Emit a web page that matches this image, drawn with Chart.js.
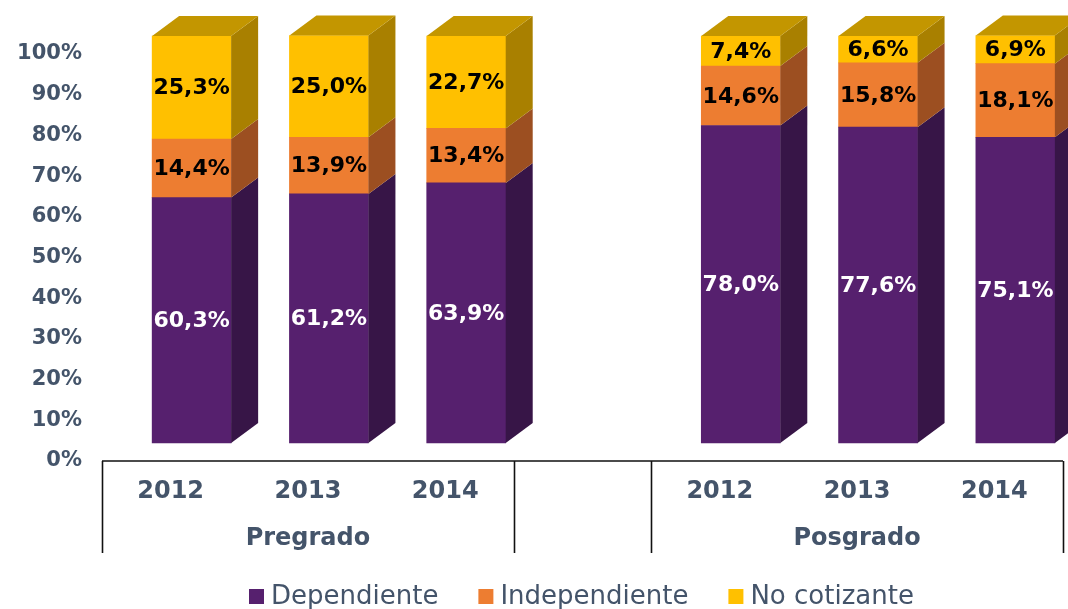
<!DOCTYPE html>
<html>
<head>
<meta charset="utf-8">
<script src="https://cdn.jsdelivr.net/npm/chart.js@4.4.1/dist/chart.umd.min.js"></script>
<style>
  html, body { margin: 0; padding: 0; background: #fff; }
  #wrap { width: 1068px; height: 609px; }
</style>
</head>
<body>
<div id="wrap"><canvas id="myChart" width="1068" height="609"></canvas></div>
<script>
// categories (empty slot separates the two groups)
const years = ['2012', '2013', '2014', '', '2012', '2013', '2014'];
const groupNames = ['Pregrado', 'Posgrado'];
const groupCenter = [1, 5];      // category index under which each group name sits
const groupEdges = [0, 3, 4, 7]; // category edges carrying the vertical separators

const seriesNames = ['Dependiente', 'Independiente', 'No cotizante'];
const dependiente   = [60.3, 61.2, 63.9, null, 78.0, 77.6, 75.1];
const independiente = [14.4, 13.9, 13.4, null, 14.6, 15.8, 18.1];
const noCotizante   = [25.3, 25.0, 22.7, null, 7.4, 6.6, 6.9];

const frontColors = ['#56206E', '#ED7D31', '#FFC000'];
const sideColors  = ['#371547', '#9C4F21', '#A98000'];
const topColor    = '#C39600';
const labelColors = ['#FFFFFF', '#000000', '#000000'];
const axisText    = '#44546A';

const DX = 27, DY = 20;   // 3D depth
const SHIFT = 21;         // front faces sit right of the slot centre
const DROP = 18;          // floor/axis sits below the front face base

const fmt = v => v.toFixed(1).replace('.', ',') + '%';

const bar3d = {
  id: 'bar3d',
  beforeDatasetsDraw(chart) {
    chart.ctx.save();
    chart.ctx.translate(SHIFT, 0);
  },
  afterDatasetsDraw(chart) {
    const ctx = chart.ctx;
    const last = chart.data.datasets.length - 1;
    chart.data.datasets.forEach((ds, di) => {
      chart.getDatasetMeta(di).data.forEach((bar, i) => {
        if (ds.data[i] == null) return;
        const { x, y, base, width } = bar.getProps(['x', 'y', 'base', 'width'], true);
        const l = x - width / 2, r = x + width / 2;
        ctx.fillStyle = sideColors[di];
        ctx.beginPath();
        ctx.moveTo(r, y);
        ctx.lineTo(r + DX, y - DY);
        ctx.lineTo(r + DX, base - DY);
        ctx.lineTo(r, base);
        ctx.closePath();
        ctx.fill();
        if (di === last) {
          ctx.fillStyle = topColor;
          ctx.beginPath();
          ctx.moveTo(l, y);
          ctx.lineTo(l + DX, y - DY);
          ctx.lineTo(r + DX, y - DY);
          ctx.lineTo(r, y);
          ctx.closePath();
          ctx.fill();
        }
      });
    });
    // value labels
    ctx.font = 'bold 22px "DejaVu Sans"';
    ctx.textAlign = 'center';
    ctx.textBaseline = 'middle';
    chart.data.datasets.forEach((ds, di) => {
      chart.getDatasetMeta(di).data.forEach((bar, i) => {
        if (ds.data[i] == null) return;
        const { x, y, base } = bar.getProps(['x', 'y', 'base'], true);
        ctx.fillStyle = labelColors[di];
        ctx.fillText(fmt(ds.data[i]), x, (y + base) / 2 + 1);
      });
    });
    ctx.restore();
  },
  afterDraw(chart) {
    const ctx = chart.ctx;
    const xs = chart.scales.x, ys = chart.scales.y;
    const area = chart.chartArea;
    const slot = (area.right - area.left) / years.length;
    const floor = ys.getPixelForValue(0) + DROP;
    const bottom = floor + 92;

    ctx.save();
    ctx.strokeStyle = '#111';
    ctx.lineWidth = 1.6;
    ctx.beginPath();
    ctx.moveTo(area.left, floor);
    ctx.lineTo(area.right, floor);
    groupEdges.forEach(e => {
      const px = Math.round(area.left + e * slot) + 0.5;
      ctx.moveTo(px, floor);
      ctx.lineTo(px, bottom);
    });
    ctx.stroke();

    ctx.fillStyle = axisText;
    ctx.textAlign = 'center';
    ctx.textBaseline = 'middle';
    ctx.font = 'bold 24px "DejaVu Sans"';
    years.forEach((t, i) => {
      if (t) ctx.fillText(t, xs.getPixelForValue(i), floor + 31);
    });
    groupNames.forEach((g, k) => {
      ctx.fillText(g, xs.getPixelForValue(groupCenter[k]), floor + 78);
    });

    // legend
    ctx.font = '26px "DejaVu Sans"';
    ctx.textAlign = 'left';
    const box = 15, gapText = 7, gapItem = 40;
    const widths = chart.data.datasets.map(d => box + gapText + ctx.measureText(d.label).width);
    let lx = 249;
    const ly = 597;
    chart.data.datasets.forEach((d, di) => {
      ctx.fillStyle = d.backgroundColor;
      ctx.fillRect(lx, ly - 8, box, box);
      ctx.fillStyle = axisText;
      ctx.fillText(d.label, lx + box + gapText, ly);
      lx += widths[di] + gapItem;
    });
    ctx.restore();
  }
};

const seriesData = [dependiente, independiente, noCotizante];

new Chart(document.getElementById('myChart').getContext('2d'), {
  type: 'bar',
  data: {
    labels: years,
    datasets: seriesNames.map((name, i) => ({
      label: name,
      data: seriesData[i],
      backgroundColor: frontColors[i],
      borderWidth: 0,
      barThickness: 79,
      clip: false
    }))
  },
  options: {
    responsive: false,
    animation: false,
    layout: { padding: { top: 36, right: 5, bottom: 166, left: 0 } },
    plugins: {
      legend: { display: false },
      tooltip: { enabled: false }
    },
    scales: {
      x: {
        stacked: true,
        display: false
      },
      y: {
        stacked: true,
        min: 0,
        max: 100,
        afterFit(scale) { scale.width = 102; },
        grid: { display: false, drawTicks: false },
        border: { display: false },
        ticks: {
          stepSize: 10,
          padding: 20,
          labelOffset: DROP,
          color: axisText,
          font: { family: 'DejaVu Sans', size: 21, weight: 'bold' },
          callback: v => v + '%'
        }
      }
    }
  },
  plugins: [bar3d]
});
</script>
</body>
</html>
